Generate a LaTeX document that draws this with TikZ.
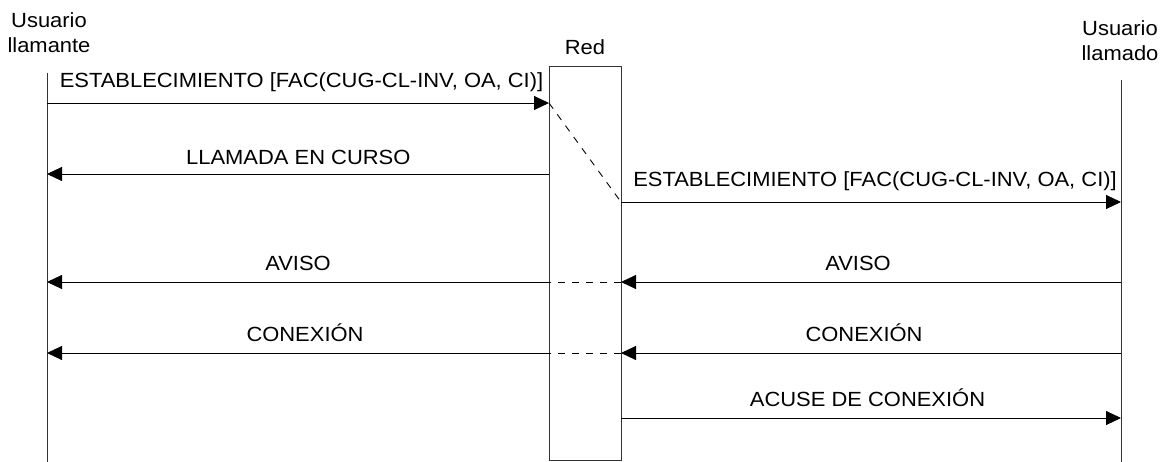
\documentclass[tikz,border=0pt]{standalone}
\usepackage{fontspec}
\setmainfont{Liberation Sans}[FakeStretch=1.07]
\usetikzlibrary{arrows.meta}
\begin{document}
\begin{tikzpicture}[x=1pt,y=-1pt,
  every node/.style={font=\fontsize{20.5}{25.5}\selectfont, inner sep=0pt},
  lifeline/.style={line width=0.9pt, black!80},
  msg/.style={line width=0.9pt, -{Triangle[length=15pt,width=14pt]}},
  relay/.style={line width=0.9pt, dash pattern=on 7pt off 7pt},
  lbl/.style={anchor=base}]
\useasboundingbox (0,0) rectangle (1161,462);

% participants (base anchor sits on the last line)
\node[lbl, align=center] (caller) at (49,53) {Usuario\\llamante};
\node[lbl, align=center] (callee) at (1120,61) {Usuario\\llamado};
\node[lbl] (redlbl) at (585,55) {Red};
\node[draw, line width=0.9pt, black!80, minimum width=72pt, minimum height=394pt, anchor=north west] (red) at (549,66) {};

% lifelines
\coordinate (ltop) at (47,73);
\coordinate (lbot) at (47,462);
\coordinate (rtop) at (1121,80);
\coordinate (rbot) at (1121,462);
\draw[lifeline] (ltop) -- (lbot);
\draw[lifeline] (rtop) -- (rbot);

% message endpoints
\coordinate (l1) at (47,103);   \coordinate (n1) at (549,103);
\coordinate (l2) at (47,174);   \coordinate (n2) at (549,174);
\coordinate (n3) at (621,202);  \coordinate (r3) at (1121,202);
\coordinate (l4) at (47,282);   \coordinate (n4l) at (549,282);
\coordinate (n4r) at (621,282); \coordinate (r4) at (1121,282);
\coordinate (l5) at (47,353);   \coordinate (n5l) at (549,353);
\coordinate (n5r) at (621,353); \coordinate (r5) at (1121,353);
\coordinate (n6) at (621,418);  \coordinate (r6) at (1121,418);

% messages
\draw[msg] (l1) -- (n1);
\node[lbl] (m1) at (301.5,88) {ESTABLECIMIENTO [FAC(CUG-CL-INV, OA, CI)]};
\draw[msg] (n2) -- (l2);
\node[lbl] (m2) at (298.3,165) {LLAMADA EN CURSO};
\draw[relay] (n1) -- (n3);
\draw[msg] (n3) -- (r3);
\node[lbl] (m3) at (875,187) {ESTABLECIMIENTO [FAC(CUG-CL-INV, OA, CI)]};
\draw[msg] (r4) -- (n4r);
\node[lbl] (m4r) at (858,270) {AVISO};
\draw[relay] (n4r) -- (n4l);
\draw[msg] (n4l) -- (l4);
\node[lbl] (m4l) at (298,270) {AVISO};
\draw[msg] (r5) -- (n5r);
\node[lbl] (m5r) at (864,341.7) {CONEXIÓN};
\draw[relay] (n5r) -- (n5l);
\draw[msg] (n5l) -- (l5);
\node[lbl] (m5l) at (305,341.7) {CONEXIÓN};
\draw[msg] (n6) -- (r6);
\node[lbl] (m6) at (867.5,406) {ACUSE DE CONEXIÓN};
\end{tikzpicture}
\end{document}
